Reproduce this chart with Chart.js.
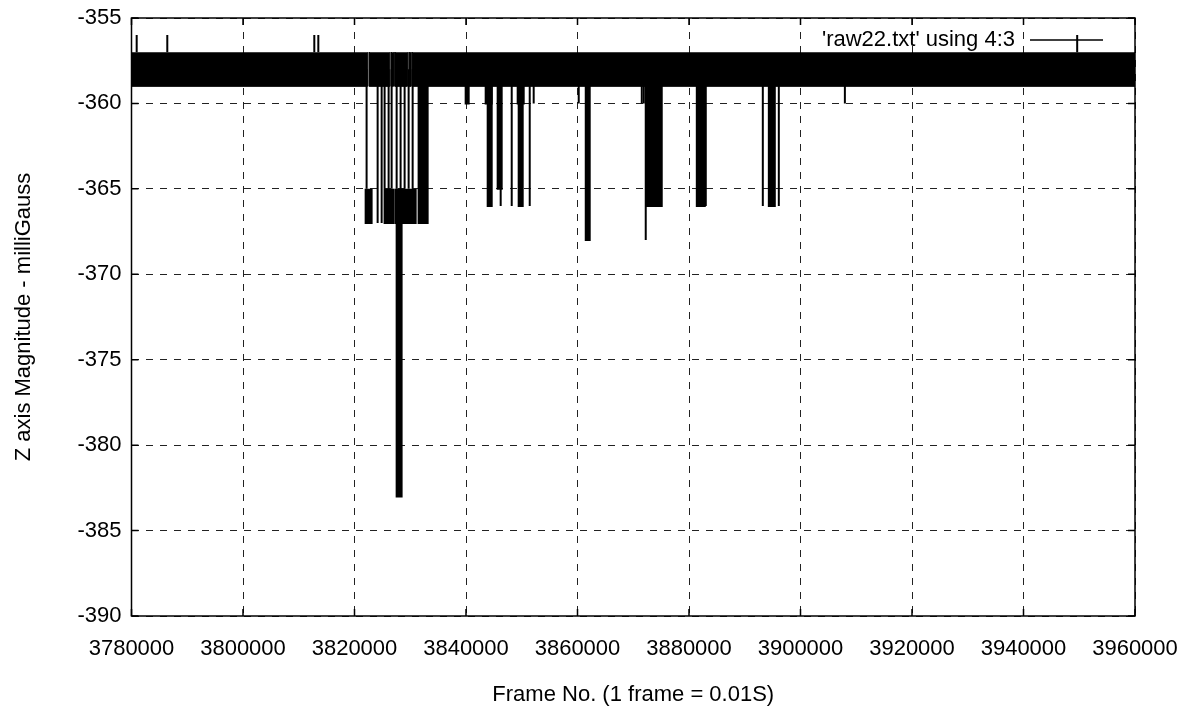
<!DOCTYPE html>
<html>
<head>
<meta charset="utf-8">
<script src="https://cdn.jsdelivr.net/npm/chart.js@4.4.1/dist/chart.umd.min.js"></script>
<style>
html, body { margin:0; padding:0; background:#fff; }
</style>
</head>
<body>
<canvas id="grafico" width="1185" height="711"></canvas>
<script>
// --- Dados ---
const seriesLabel = "'raw22.txt' using 4:3";
const xTitle = "Frame No. (1 frame = 0.01S)";
const yTitle = "Z axis Magnitude - milliGauss";

const xTickValues = [3780000, 3800000, 3820000, 3840000, 3860000, 3880000, 3900000, 3920000, 3940000, 3960000];
const yTickValues = [-390, -385, -380, -375, -370, -365, -360, -355];

// faixa onde o sinal oscila o tempo todo (entre -357 e -359)
const bandStart = [3780000, 3822650, 3826600, 3827250, 3829800, 3830350];
const bandEnd   = [3822350, 3826350, 3827000, 3829500, 3830150, 3960000];
const bandHigh = -357;
const bandLow = -359;

// picos: quadro inicial, quadro final, valor de partida e valor extremo
const spikeStart = [3780930, 3786420, 3812790, 3813510, 3949630,
  3822000, 3822170, 3824150, 3824870, 3825400, 3825400, 3826120, 3826660,
  3827380, 3827560, 3827560, 3828270, 3828990, 3829710, 3830430, 3831500,
  3839940, 3843530, 3843890, 3845680, 3846220, 3848200, 3849270, 3849450,
  3851430, 3852140, 3860220, 3861480, 3871530, 3871890, 3872240, 3872420,
  3881400, 3883010, 3893240, 3894320, 3896110, 3907960];
const spikeEnd = [3780930, 3786420, 3812790, 3813510, 3949630,
  3823070, 3822170, 3824150, 3824870, 3825400, 3827020, 3826120, 3826660,
  3830970, 3827560, 3828450, 3828270, 3828990, 3829710, 3830430, 3833120,
  3840480, 3844610, 3844610, 3846400, 3846220, 3848200, 3850350, 3850170,
  3851430, 3852140, 3860220, 3862190, 3871530, 3871890, 3872240, 3875110,
  3882830, 3883010, 3893240, 3895390, 3896110, 3907960];
const spikeBase = [-357, -357, -357, -357, -357,
  -365, -358, -358, -358, -358, -365, -358, -358,
  -365, -358, -365, -358, -358, -358, -358, -358,
  -358, -358, -358, -358, -358, -358, -358, -358,
  -358, -358, -358, -358, -358, -358, -358, -358,
  -358, -358, -358, -358, -358, -358];
const spikeTip = [-356, -356, -356, -356, -356,
  -367, -365, -367, -367, -365, -367, -365, -365,
  -367, -365, -383, -365, -365, -365, -365, -367,
  -360, -360, -366, -365, -366, -366, -360, -366,
  -366, -360, -360, -368, -360, -360, -368, -366,
  -366, -366, -366, -366, -366, -360];

const fonte = '"Liberation Sans", Arial, sans-serif';

// --- Montagem dos datasets ---
function retangulo(ini, fim, base, ponta, largura) {
    const pts = ini === fim
        ? [{x:ini, y:base}, {x:ini, y:ponta}]
        : [{x:ini, y:base}, {x:ini, y:ponta}, {x:fim, y:ponta}, {x:fim, y:base}];
    return {
        label: seriesLabel,
        data: pts,
        borderColor: '#000',
        backgroundColor: '#000',
        borderWidth: largura,
        pointRadius: 0,
        tension: 0,
        fill: {value: base}
    };
}

const datasets = [];
bandStart.forEach((s, i) => datasets.push(retangulo(s, bandEnd[i], bandHigh, bandLow, 1)));
spikeStart.forEach((s, i) => datasets.push(retangulo(s, spikeEnd[i], spikeBase[i], spikeTip[i], 2)));

// --- Moldura, marcas internas e legenda (estilo gnuplot) ---
const molduraPlugin = {
    id: 'moldura',
    afterDraw(chart) {
        const {ctx, chartArea: a, scales: {x, y}} = chart;
        ctx.save();
        ctx.strokeStyle = '#000';
        ctx.lineWidth = 1.5;
        ctx.beginPath();
        x.ticks.forEach(t => {
            const px = x.getPixelForValue(t.value);
            ctx.moveTo(px, a.bottom); ctx.lineTo(px, a.bottom - 7);
            ctx.moveTo(px, a.top); ctx.lineTo(px, a.top + 7);
        });
        y.ticks.forEach(t => {
            const py = y.getPixelForValue(t.value);
            ctx.moveTo(a.left, py); ctx.lineTo(a.left + 7, py);
            ctx.moveTo(a.right, py); ctx.lineTo(a.right - 7, py);
        });
        ctx.stroke();
        ctx.strokeRect(a.left, a.top, a.right - a.left, a.bottom - a.top);

        // legenda
        ctx.fillStyle = '#000';
        ctx.font = '22px ' + fonte;
        ctx.textAlign = 'right';
        ctx.textBaseline = 'middle';
        ctx.fillText(seriesLabel, a.right - 120, a.top + 22);
        ctx.beginPath();
        ctx.moveTo(a.right - 105, a.top + 22);
        ctx.lineTo(a.right - 32, a.top + 22);
        ctx.stroke();
        ctx.restore();
    }
};

new Chart(document.getElementById('grafico'), {
    type: 'line',
    data: { datasets: datasets },
    options: {
        responsive: false,
        animation: false,
        events: [],
        layout: { padding: { top: 18, right: 50, left: 0, bottom: 0 } },
        plugins: { legend: { display: false }, tooltip: { enabled: false } },
        scales: {
            x: {
                type: 'linear',
                min: 3780000,
                max: 3960000,
                afterBuildTicks: s => { s.ticks = xTickValues.map(v => ({value: v})); },
                afterFit: s => { s.height = 95; s.paddingLeft = 0; s.paddingRight = 0; },
                grid: { color: '#222', lineWidth: 1, drawTicks: false },
                border: { display: false, dash: [7, 7] },
                ticks: {
                    color: '#000', padding: 20, maxRotation: 0, autoSkip: false,
                    font: { family: fonte, size: 22 },
                    callback: v => String(v)
                },
                title: {
                    display: true, text: xTitle, color: '#000',
                    font: { family: fonte, size: 22 },
                    padding: { top: 0, bottom: 3 }
                }
            },
            y: {
                type: 'linear',
                min: -390,
                max: -355,
                afterBuildTicks: s => { s.ticks = yTickValues.map(v => ({value: v})); },
                afterFit: s => { s.width = 131.5; s.paddingTop = 0; s.paddingBottom = 0; },
                grid: { color: '#222', lineWidth: 1, drawTicks: false },
                border: { display: false, dash: [7, 7] },
                ticks: {
                    color: '#000', padding: 10, autoSkip: false,
                    font: { family: fonte, size: 22 },
                    callback: v => String(v)
                },
                title: {
                    display: true, text: yTitle, color: '#000',
                    font: { family: fonte, size: 22 },
                    padding: { top: 11, bottom: 0 }
                }
            }
        }
    },
    plugins: [molduraPlugin]
});
</script>
</body>
</html>
